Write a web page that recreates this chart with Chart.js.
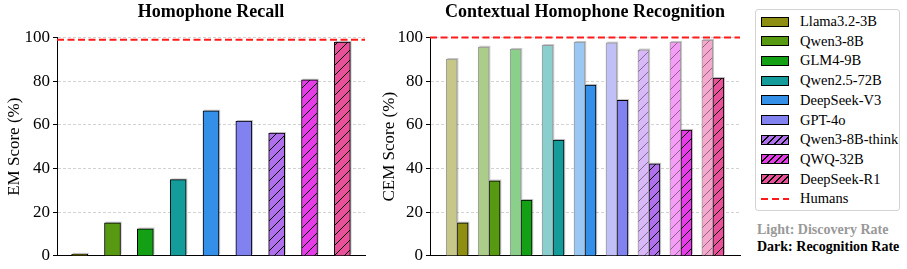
<!DOCTYPE html>
<html>
<head>
<meta charset="utf-8">
<script src="https://cdn.jsdelivr.net/npm/chart.js@4.4.0/dist/chart.umd.min.js"></script>
<style>
    body { margin: 0; background: #fff; width: 907px; height: 269px; position: relative; overflow: hidden;
           font-family: "Liberation Serif", "Times New Roman", serif; }
    canvas { position: absolute; top: 0; }
    #recall { left: 0; }
    #recognition { left: 370px; }
    #legend { position: absolute; left: 755px; top: 9px; width: 145px; height: 202px; box-sizing: border-box;
              border: 1px solid #d4d4d4; border-radius: 3px; }
    .row { position: absolute; left: 0; height: 14px; display: flex; align-items: center; font-size: 14.5px; white-space: nowrap; }
    .swatch { width: 28px; height: 10px; box-sizing: border-box; border: 1px solid #000; margin-left: 5px; margin-right: 11px; }
    .dash { width: 28px; height: 2px; margin-left: 5px; margin-right: 11px;
            background: repeating-linear-gradient(90deg, #ff1a1a 0 7px, transparent 7px 11px); }
    .note { position: absolute; left: 757px; font-size: 14px; font-weight: bold; white-space: nowrap; }
</style>
</head>
<body>
<canvas id="recall" width="370" height="269"></canvas>
<canvas id="recognition" width="375" height="269"></canvas>
<div id="legend"></div>
<div class="note" style="top:222px; color:#999;">Light: Discovery Rate</div>
<div class="note" style="top:239px; color:#000;">Dark: Recognition Rate</div>
<script>
const models = ["Llama3.2-3B", "Qwen3-8B", "GLM4-9B", "Qwen2.5-72B", "DeepSeek-V3", "GPT-4o", "Qwen3-8B-think", "QWQ-32B", "DeepSeek-R1"];
const modelColors = ["#8e8e12", "#579a12", "#14a014", "#149c9a", "#348fe8", "#8181ef", "#b070ee", "#e63ce8", "#e8509a"];
const hatched = [false, false, false, false, false, false, true, true, true];

const recallEM = [0.8, 15.1, 12.4, 34.9, 66.4, 61.7, 56.2, 80.6, 97.9];
const discoveryRate = [90.1, 95.7, 94.7, 96.5, 97.9, 97.6, 94.4, 97.9, 98.9];
const recognitionRate = [15.1, 34.4, 25.5, 53.0, 78.2, 71.3, 42.1, 57.6, 81.4];
const humansRecall = 99;
const humansRecognition = 100;
const yTicks = [0, 20, 40, 60, 80, 100];

const SERIF = '"Liberation Serif", "Times New Roman", serif';

function lighten(hex, amt) {
    const n = parseInt(hex.slice(1), 16);
    const r = (n >> 16) & 255, g = (n >> 8) & 255, b = n & 255;
    const m = c => Math.round(c + (255 - c) * amt);
    return `rgb(${m(r)},${m(g)},${m(b)})`;
}

function hatchPattern(fill, lineColor) {
    const s = 10;
    const c = document.createElement("canvas");
    c.width = s; c.height = s;
    const g = c.getContext("2d");
    g.fillStyle = fill;
    g.fillRect(0, 0, s, s);
    g.strokeStyle = lineColor;
    g.lineWidth = 1;
    g.beginPath();
    g.moveTo(-1, s + 1); g.lineTo(s + 1, -1);
    g.moveTo(-s / 2 - 1, s / 2 + 1); g.lineTo(s / 2 + 1, -s / 2 - 1);
    g.moveTo(s / 2 - 1, s * 1.5 + 1); g.lineTo(s * 1.5 + 1, s / 2 - 1);
    g.stroke();
    return g.createPattern(c, "repeat");
}

const darkFill = modelColors.map((c, i) => hatched[i] ? hatchPattern(c, "#000") : c);
const lightFill = modelColors.map((c, i) => hatched[i] ? hatchPattern(lighten(c, 0.5), "rgba(0,0,0,0.4)") : lighten(c, 0.5));

// soft grey shadow offset up-right behind each bar
const barShadow = {
    id: "barShadow",
    beforeDatasetsDraw(chart) {
        const ctx = chart.ctx;
        ctx.save();
        ctx.fillStyle = "rgba(0,0,0,0.22)";
        chart.data.datasets.forEach((ds, i) => {
            chart.getDatasetMeta(i).data.forEach(el => {
                const { x, y, base, width } = el.getProps(["x", "y", "base", "width"], true);
                ctx.fillRect(x - width / 2 + 1.2, y - 1.2, width, base - y);
            });
        });
        ctx.restore();
    }
};

const humansLine = {
    id: "humansLine",
    afterDatasetsDraw(chart, args, opts) {
        const { ctx, chartArea } = chart;
        const y = chart.scales.y.getPixelForValue(opts.value);
        ctx.save();
        ctx.strokeStyle = "#ff1a1a";
        ctx.lineWidth = 2;
        ctx.setLineDash([7, 3.5]);
        ctx.beginPath();
        ctx.moveTo(chartArea.left, y);
        ctx.lineTo(chartArea.right, y);
        ctx.stroke();
        ctx.restore();
    }
};

function makeOptions(title, yTitle, axisWidth, titlePad, humans, pad) {
    return {
        responsive: false,
        animation: false,
        layout: { padding: { left: 0, right: 5, top: 0, bottom: 0 } },
        scales: {
            x: {
                type: "linear",
                offset: false,
                min: -pad,
                max: models.length - 1 + pad,
                ticks: { display: false },
                grid: { display: false },
                border: { display: true, color: "#000", width: 1 },
                afterFit: s => { s.height = 13; },
            },
            y: {
                min: 0,
                max: 100,
                afterBuildTicks: s => { s.ticks = yTicks.map(v => ({ value: v })); },
                ticks: { color: "#000", padding: 3, font: { family: SERIF, size: 17 } },
                grid: { color: "#c8c8c8", lineWidth: 0.8, tickColor: "#000", tickLength: 4, tickWidth: 1 },
                border: { display: true, color: "#000", width: 1, dash: [3, 2] },
                title: { display: true, text: yTitle, color: "#000", padding: { top: titlePad, bottom: 0 },
                         font: { family: SERIF, size: 17 } },
                afterFit: s => { s.width = axisWidth; },
            }
        },
        plugins: {
            legend: { display: false },
            tooltip: { enabled: false },
            title: {
                display: true,
                text: title,
                color: "#000",
                fullSize: false,
                padding: { top: 2, bottom: 14 },
                font: { family: SERIF, size: 18, weight: "bold" },
            },
            humansLine: { value: humans },
        },
    };
}

new Chart(document.getElementById("recall").getContext("2d"), {
    type: "bar",
    data: {
        datasets: [{
            data: recallEM.map((v, i) => ({ x: i, y: v })),
            backgroundColor: darkFill,
            borderColor: "#000",
            borderWidth: 1,
            barThickness: 16,
        }]
    },
    options: makeOptions("Homophone Recall", "EM Score (%)", 57, 4, humansRecall, 0.69),
    plugins: [barShadow, humansLine],
});

new Chart(document.getElementById("recognition").getContext("2d"), {
    type: "bar",
    data: {
        datasets: [{
            data: discoveryRate.map((v, i) => ({ x: i, y: v })),
            backgroundColor: lightFill,
            borderColor: "#999",
            borderWidth: 1,
            barThickness: 11,
        }, {
            data: recognitionRate.map((v, i) => ({ x: i, y: v })),
            backgroundColor: darkFill,
            borderColor: "#000",
            borderWidth: 1,
            barThickness: 11,
        }]
    },
    options: makeOptions("Contextual Homophone Recognition", "CEM Score (%)", 60, 9.5, humansRecognition, 0.85),
    plugins: [barShadow, humansLine],
});

// legend
const legend = document.getElementById("legend");
models.forEach((m, i) => {
    const row = document.createElement("div");
    row.className = "row";
    row.style.top = (4.5 + i * 19.7) + "px";
    const sw = document.createElement("div");
    sw.className = "swatch";
    sw.style.background = hatched[i]
        ? `repeating-linear-gradient(135deg, ${modelColors[i]} 0 4px, #000 4px 5px)`
        : modelColors[i];
    const label = document.createElement("span");
    label.textContent = m;
    row.appendChild(sw);
    row.appendChild(label);
    legend.appendChild(row);
});
const hRow = document.createElement("div");
hRow.className = "row";
hRow.style.top = (4.5 + 9 * 19.7) + "px";
hRow.innerHTML = '<div class="dash"></div><span>Humans</span>';
legend.appendChild(hRow);
</script>
</body>
</html>
